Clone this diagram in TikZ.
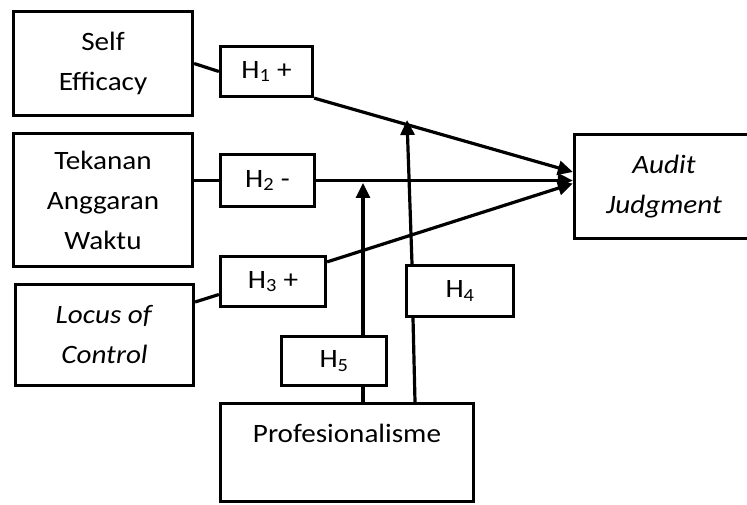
\documentclass[tikz,border=0pt]{standalone}
\usepackage{fontspec}
\setmainfont{Carlito}[FakeStretch=1.1]
\usetikzlibrary{arrows.meta}

\begin{document}
\begin{tikzpicture}[x=1pt,y=-1pt,line width=3.2pt,
  box/.style={draw,align=center,font=\fontsize{26.5}{40}\selectfont},
  hyp/.style={draw,minimum height=50pt,font=\fontsize{26.5}{30}\selectfont},
  >={Triangle[length=15pt,width=14pt]}]
  \useasboundingbox (0,0) rectangle (747,505);
      \node[box,minimum width=179pt,minimum height=104pt](self) at (103,63.5){Self\\Efficacy};
      \node[box,minimum width=179pt,minimum height=133pt](tekanan) at (103,200){Tekanan\\Anggaran\\Waktu};
      \node[box,minimum width=178pt,minimum height=101pt](locus) at (104.5,335){\textit{Locus of}\\\textit{Control}};
      \node[box,minimum width=179pt,minimum height=104pt](audit) at (664,186.5){\textit{Audit}\\\textit{Judgment}};
      \node[box,minimum width=253pt,minimum height=98pt,text height=18pt,text depth=39pt](prof) at (347,452.5){Profesionalisme};
      \node[hyp,minimum width=92pt](h1) at (266.5,71.5){H\textsubscript{1} +};
      \node[hyp,minimum width=94pt,minimum height=52pt](h2) at (267.5,180.5){H\textsubscript{2} -};
      \node[hyp,minimum width=105pt](h3) at (273,281.5){H\textsubscript{3} +};
      \node[hyp,minimum width=107pt,minimum height=51pt](h4) at (460,291){H\textsubscript{4}};
      \node[hyp,minimum width=105pt,minimum height=49pt](h5) at (334,361){H\textsubscript{5}};
      \coordinate (m1) at (407,120);
      \coordinate (m2) at (363,183);
      \draw (self.east) -- (h1.west);
      \draw[->] (h1.south east) -- ([yshift=14.5pt]audit.west);
      \draw (h2.west -| tekanan.east) -- (h2.west);
      \draw[->] (h2.east) -- (h2.east -| audit.west);
      \draw ([yshift=33pt]locus.east) -- ([yshift=-13pt]h3.west);
      \draw[->] ([yshift=-7pt]h3.north east) -- ([yshift=3pt]audit.west);
      \draw ([xshift=16pt]prof.north) -- ([xshift=29pt]h5.south);
      \draw[->] ([xshift=29pt]h5.north) -- (m2);
      \draw ([xshift=68pt]prof.north) -- ([xshift=-47pt]h4.south);
      \draw[->] ([xshift=-48pt]h4.north) -- (m1);
    \end{tikzpicture}
\end{document}
